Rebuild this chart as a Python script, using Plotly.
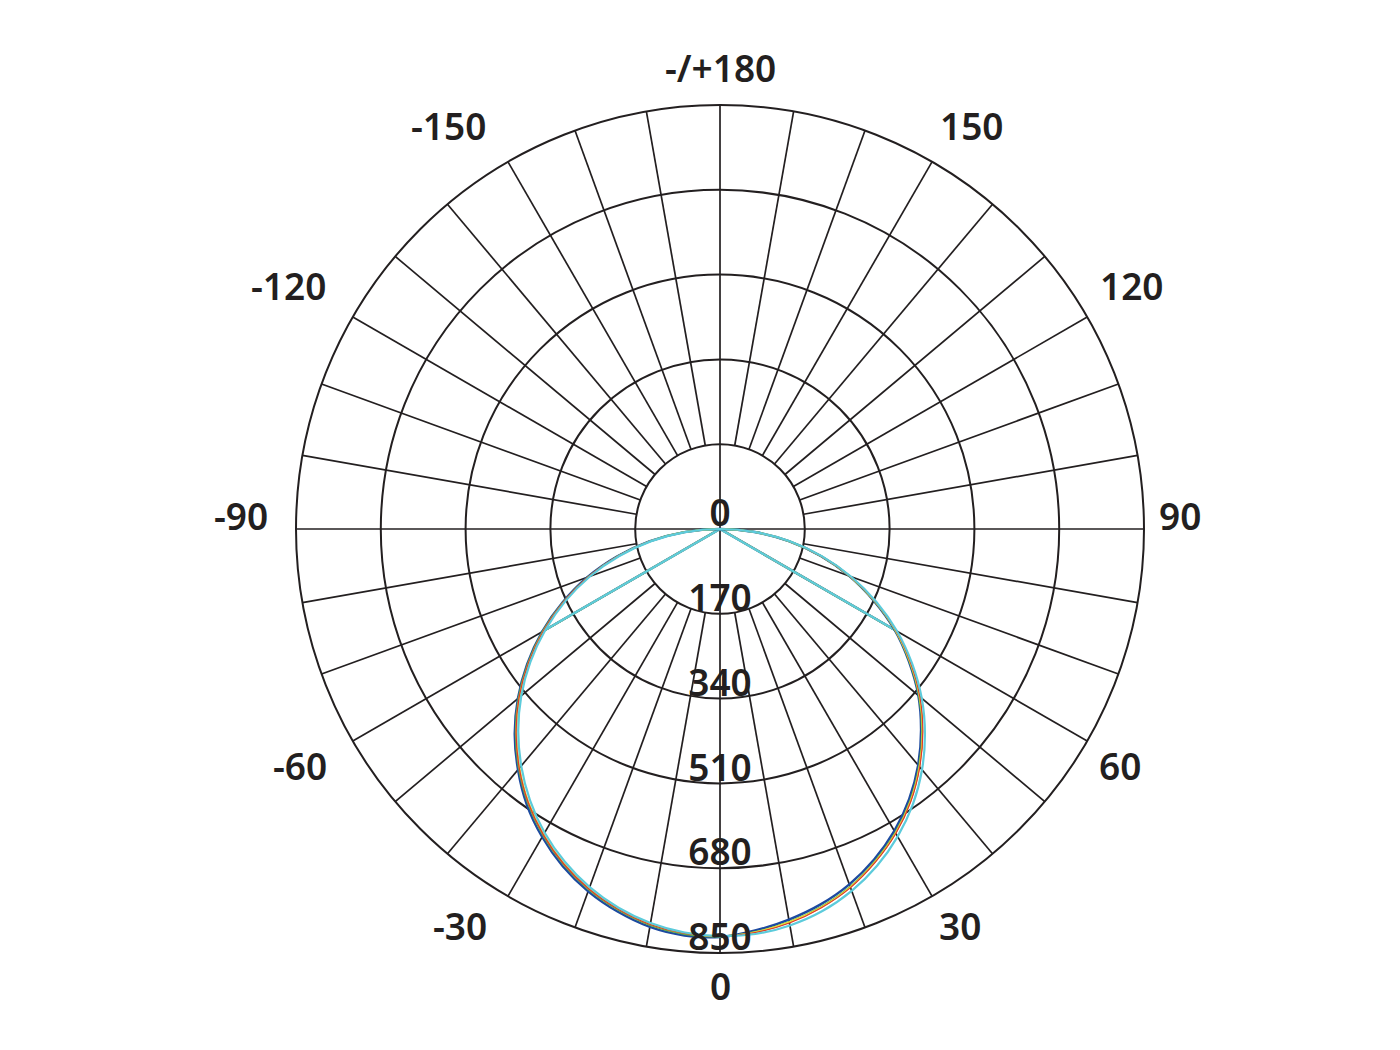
import plotly.graph_objects as go

# Gamma angles (degrees); 0 = straight down, positive = right side
gamma = [-90, -85, -80, -75, -70, -65, -60, -55, -50, -45, -40, -35, -30, -25, -20, -15, -10, -5,
         0, 5, 10, 15, 20, 25, 30, 35, 40, 45, 50, 55, 60, 65, 70, 75, 80, 85, 90]

# Luminous intensity (cd) per C-plane
c_blue = [0, 72, 144, 214, 283, 348, 412, 472, 529, 582, 630, 675, 713, 746, 773, 794, 810, 818,
          818, 808, 795, 779, 758, 731, 699, 661, 618, 570, 519, 462, 404, 340, 276, 209, 140, 70, 0]
c_red = [0, 71, 143, 212, 281, 346, 409, 469, 526, 578, 626, 670, 708, 741, 768, 789, 805, 814,
         816, 812, 802, 786, 765, 737, 705, 667, 623, 575, 523, 466, 407, 343, 278, 210, 141, 71, 0]
c_yellow = [0, 71, 142, 212, 280, 345, 408, 468, 525, 577, 625, 669, 707, 740, 767, 788, 804, 813,
            816, 811, 800, 785, 764, 736, 704, 666, 622, 574, 522, 465, 406, 342, 277, 210, 141, 70, 0]
c_green = [0, 71, 143, 213, 281, 346, 410, 470, 527, 579, 627, 671, 709, 742, 769, 790, 806, 815,
           817, 811, 800, 784, 763, 735, 703, 665, 621, 573, 521, 464, 406, 342, 277, 210, 141, 70, 0]
c_cyan = [0, 70, 140, 209, 277, 342, 404, 464, 520, 572, 620, 664, 703, 736, 764, 786, 802, 812,
          816, 815, 807, 793, 772, 745, 712, 674, 630, 581, 528, 470, 410, 346, 280, 212, 142, 71, 0]

series = [
    ("C0", c_blue, "#1d4aa0", 2.4),
    ("C45", c_green, "#5fb244", 2.0),
    ("C135", c_yellow, "#e9e23c", 1.6),
    ("C90", c_red, "#e2352b", 1.2),
    ("C180", c_cyan, "#5ccbdb", 2.2),
]

radial_ticks = [0, 170, 340, 510, 680, 850]
angle_labels = ["0", "30", "60", "90", "120", "150", "-/+180", "-150", "-120", "-90", "-60", "-30"]

RMAX = 850          # outer ring value
RANGE_MAX = 870     # radial axis range (a little beyond the outer ring for its label)
INNER = 170
INK = "#231f20"
FONT = "Noto Sans"
W, H = 1400, 1050
CX, CY, R = 720, 529, 424        # wanted centre and outer-ring radius in pixels
SHIFT = 8                         # page body margin: everything lands 8 px right/down
RD = R * RANGE_MAX / RMAX         # domain half-size

# pixel offsets of the angular labels from the polar centre (layout only)
label_offsets = [(0, 456), (240, 396), (400, 236), (460, -14), (412, -244), (252, -404),
                 (0, -462), (-272, -404), (-432, -244), (-479, -14), (-420, 236), (-260, 396)]

fig = go.Figure()

# grid spokes every 10 degrees (start at inner ring except main axes)
sp_t, sp_r = [], []
for a in range(0, 360, 10):
    start = 0 if a % 90 == 0 else INNER
    sp_t += [a, a, None]
    sp_r += [start, RMAX, None]
fig.add_trace(go.Scatterpolar(theta=sp_t, r=sp_r, mode="lines",
                              line=dict(color=INK, width=1.7), hoverinfo="skip",
                              showlegend=False, connectgaps=False))

# curves: smooth arc plus chord segments to the origin
i60n = gamma.index(-60)
i60p = gamma.index(60)
for name, vals, col, w in series:
    fig.add_trace(go.Scatterpolar(theta=[gamma[i60n], 0, gamma[i60p]],
                                  r=[vals[i60n], 0, vals[i60p]], mode="lines",
                                  line=dict(color=col, width=w), showlegend=False, hoverinfo="skip"))
for name, vals, col, w in series:
    fig.add_trace(go.Scatterpolar(theta=gamma, r=vals, mode="lines", name=name,
                                  line=dict(color=col, width=w, shape="spline", smoothing=1.0),
                                  showlegend=False))

# radial labels (just above each ring along the 0 direction)
fig.add_trace(go.Scatterpolar(theta=[0] * len(radial_ticks), r=[v + 13 for v in radial_ticks],
                              mode="text",
                              text=[str(v) for v in radial_ticks], textposition="top center",
                              textfont=dict(family=FONT, size=37, color=INK, weight=600),
                              cliponaxis=False, showlegend=False, hoverinfo="skip"))

dcx, dcy = CX - SHIFT, CY - SHIFT
annotations = []
for txt, (dx, dy) in zip(angle_labels, label_offsets):
    annotations.append(dict(text=txt, xref="paper", yref="paper",
                            x=(dcx + dx) / W, y=1 - (dcy + dy) / H,
                            xanchor="center", yanchor="middle", showarrow=False,
                            font=dict(family=FONT, size=37, color=INK, weight=600)))

fig.update_layout(
    width=W, height=H,
    paper_bgcolor="white", plot_bgcolor="white",
    margin=dict(l=0, r=0, t=0, b=0),
    showlegend=False,
    annotations=annotations,
    polar=dict(
        domain=dict(x=[(dcx - RD) / W, (dcx + RD) / W],
                    y=[(H - (dcy + RD)) / H, (H - (dcy - RD)) / H]),
        bgcolor="rgba(0,0,0,0)",
        radialaxis=dict(range=[0, RANGE_MAX], tickvals=radial_ticks[1:], showticklabels=False,
                        ticks="", showline=False, gridcolor=INK, gridwidth=1.8),
        angularaxis=dict(rotation=-90, direction="counterclockwise",
                         showticklabels=False, ticks="",
                         showgrid=False, showline=False),
    ),
)

fig.write_html("out.html")
